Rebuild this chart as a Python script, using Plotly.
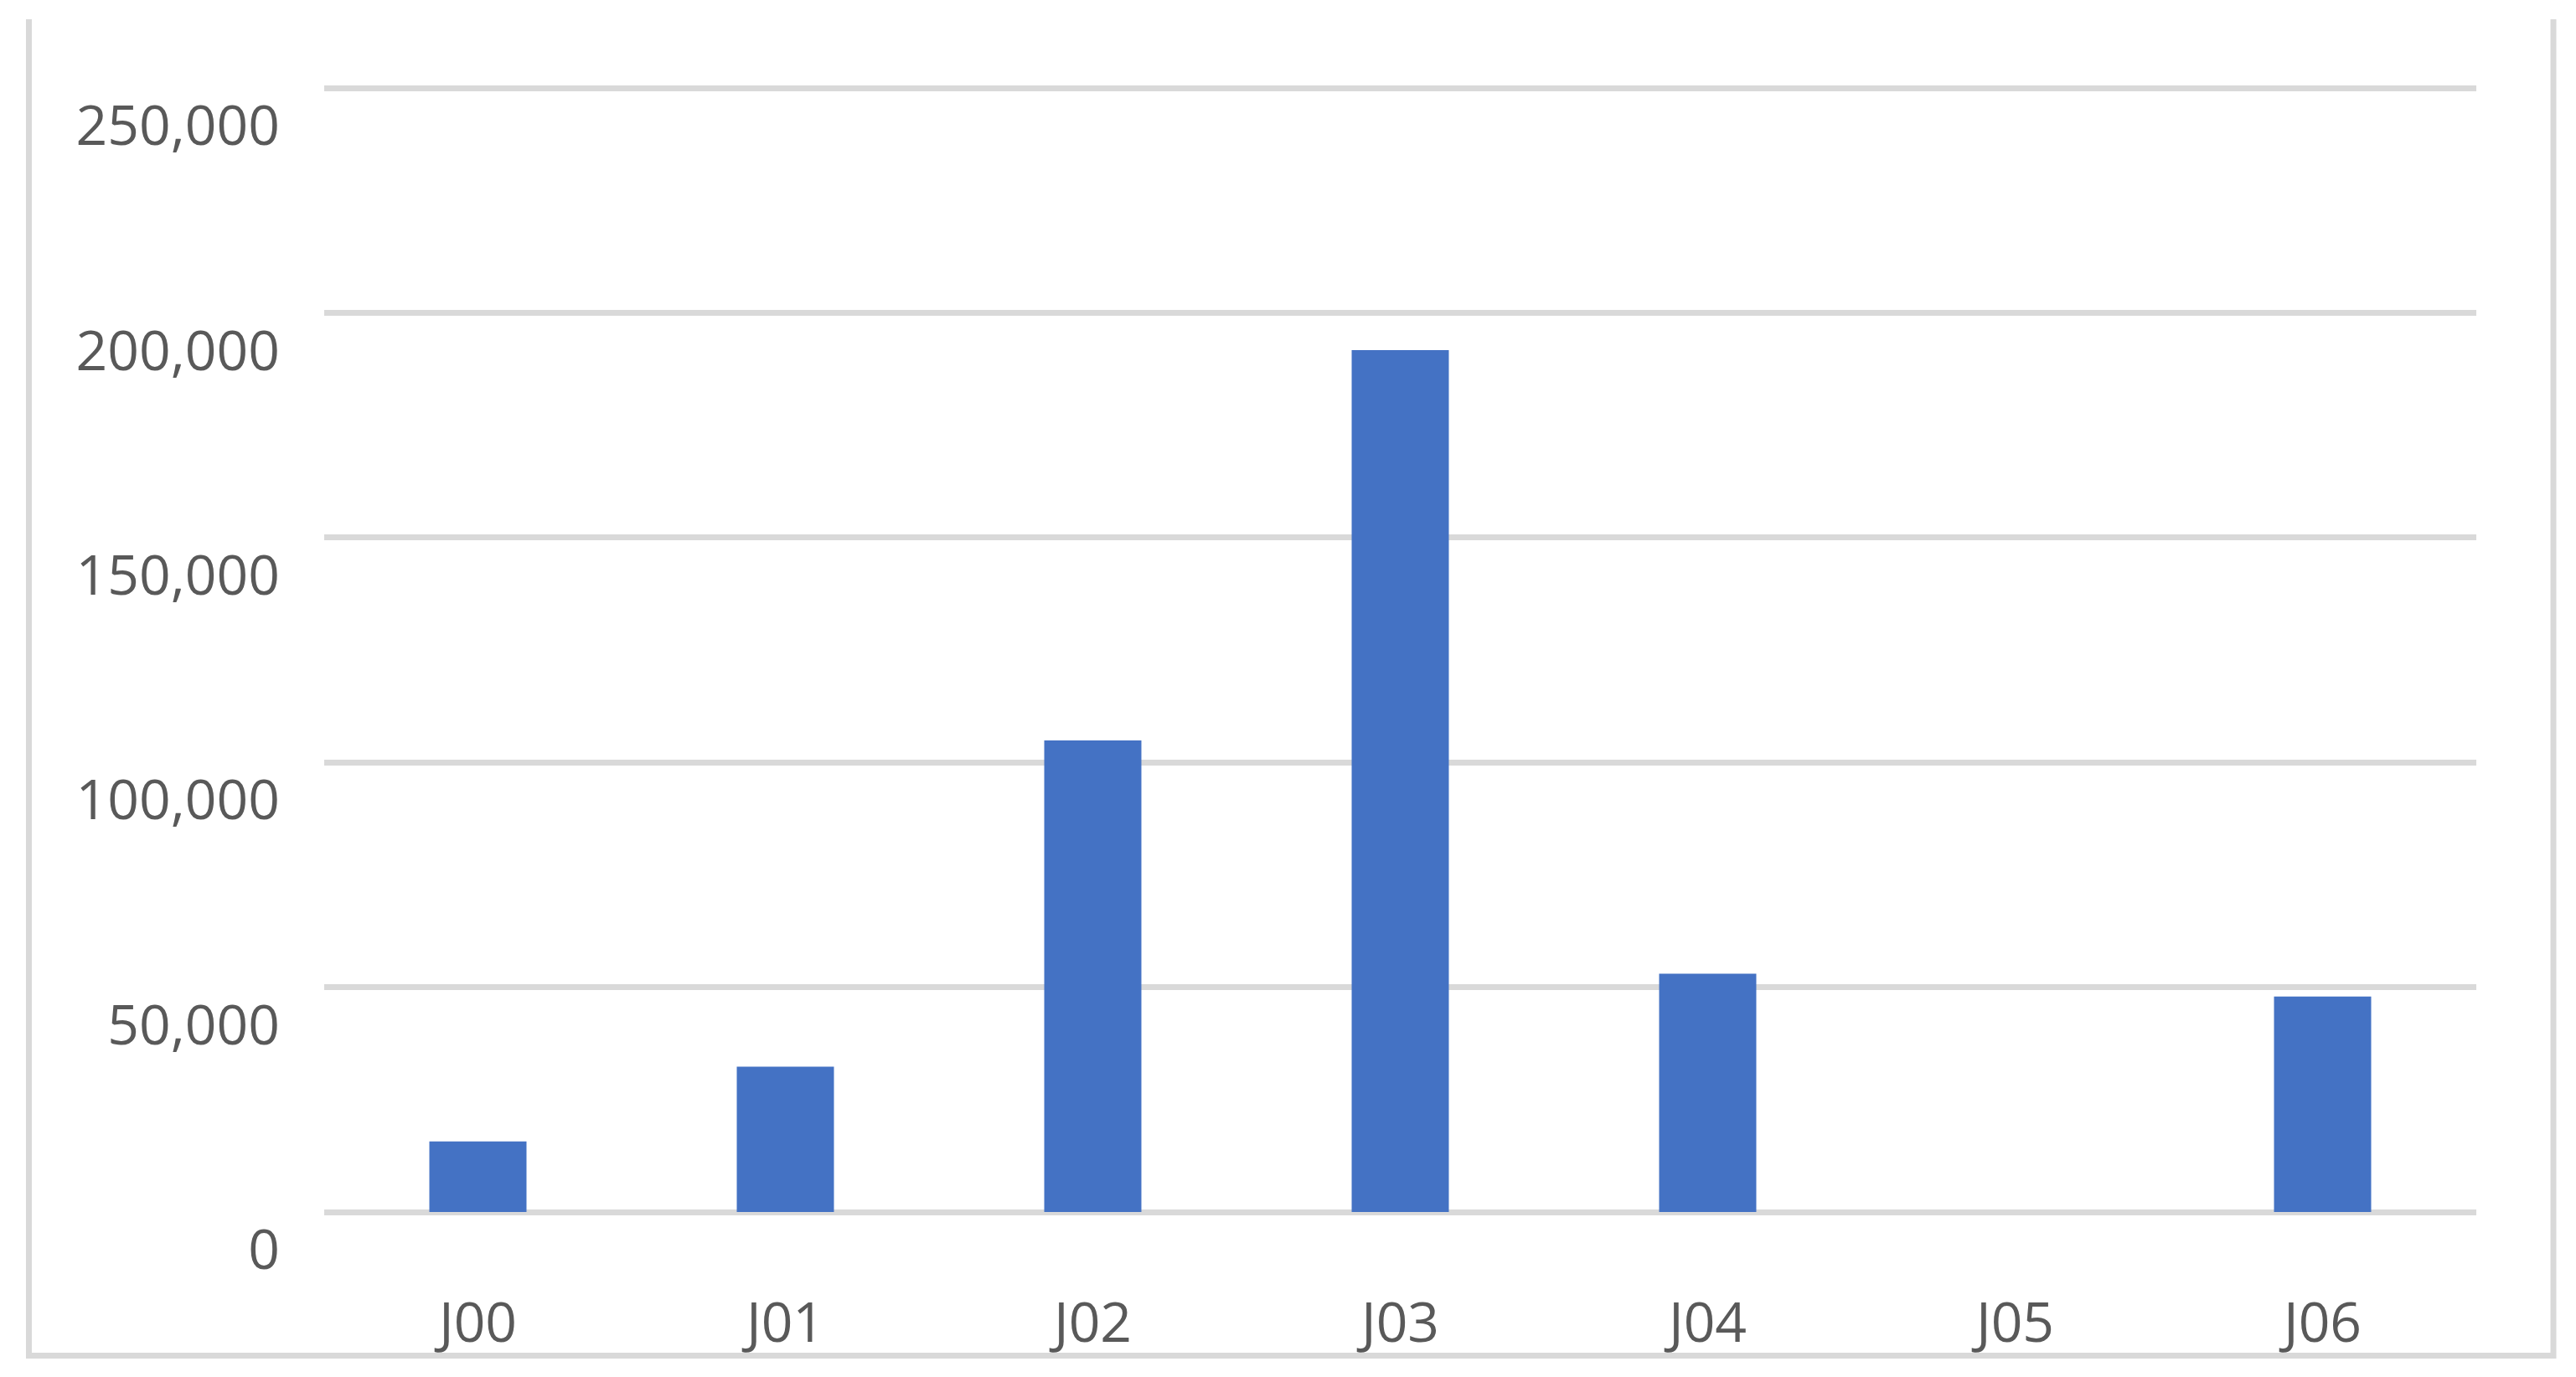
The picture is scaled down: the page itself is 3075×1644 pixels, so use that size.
import plotly.graph_objects as go

# data
categories = ["J00", "J01", "J02", "J03", "J04", "J05", "J06"]
values = [15700, 32300, 104900, 191700, 53000, 0, 47900]
y_ticks = [0, 50000, 100000, 150000, 200000, 250000]

BAR = "#4472C4"
GRID = "#D9D9D9"
TEXT = "#595959"

# page body has an 8px margin, so work in page pixels and shift by OFF
OFF = 8
W, H = 3075 - OFF, 1644 - OFF
PAD = 2  # extra px so the 0 and 250k gridlines are not clipped
L, R, T, B = 387 - OFF, 119, 105 - OFF - PAD, 197 - PAD
pw, ph = W - L - R, H - T - B
per_px = 250000 / (ph - 2 * PAD)


def px_x(x):
    return (x - OFF - L) / pw


def px_y(y):
    return (H - B - (y - OFF)) / ph


fig = go.Figure(go.Bar(
    x=categories,
    y=values,
    marker=dict(color=BAR, line=dict(width=0)),
))

# chart frame (top edge is not drawn in the source)
fig.add_shape(
    type="path",
    xref="paper", yref="paper",
    path=(f"M {px_x(34.5)},{px_y(23)} L {px_x(34.5)},{px_y(1618.5)} "
          f"L {px_x(3048)},{px_y(1618.5)} L {px_x(3048)},{px_y(23)}"),
    line=dict(color=GRID, width=7),
    layer="below",
)

fig.update_layout(
    width=W, height=H,
    margin=dict(l=L, r=R, t=T, b=B, pad=0),
    paper_bgcolor="white",
    plot_bgcolor="white",
    bargap=0.684,
    showlegend=False,
    font=dict(family="Open Sans", size=66, color=TEXT),
    xaxis=dict(
        showgrid=False,
        showline=False,
        zeroline=False,
        ticks="",
        ticklabelstandoff=86,
        tickfont=dict(family="Open Sans", size=66, color=TEXT),
    ),
    yaxis=dict(
        range=[-PAD * per_px, 250000 + PAD * per_px],
        tickvals=y_ticks,
        tickformat=",",
        showgrid=True,
        gridcolor=GRID,
        gridwidth=7,
        zeroline=False,
        showline=False,
        ticks="",
        ticklabelstandoff=52,
        ticklabelshift=45,
        tickfont=dict(family="Open Sans", size=66, color=TEXT),
    ),
)

fig.write_html("out.html")
